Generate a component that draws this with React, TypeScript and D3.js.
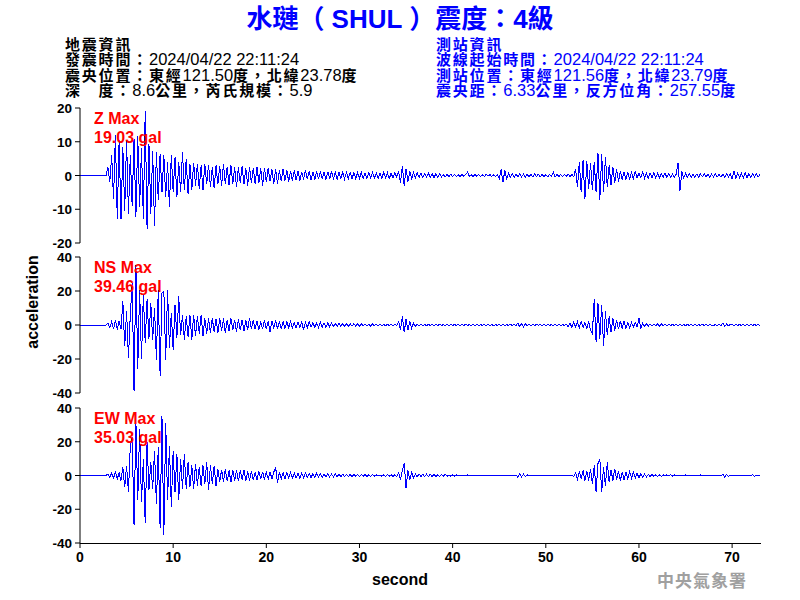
import React from 'react';
import * as d3 from 'd3';

const SAMPLE_DT = 0.2;

const zValues = [
  0,0,0,0,0, 0,0,0,0,0, 0,0,0,0,0,
  2.5,-2,6,-7,11.9,
  -13,10.4,-13,8.4,-10.4,
  10.6,-11.4,6,-9,10.9,
  -12.3,11.6,-9.4,8,-12.8,
  19,-15.8,9.4,-11.4,7.4,
  -15,6.9,-7.4,6.4,-5,
  6,-6.4,4,-9.2,6.1,
  -5,5.4,-6.4,4,-5,
  7,-4.4,4.8,-5.5,3.5,
  -4.4,3.8,-3,3.5,-4,
  3,-4.4,3.5,-2.6,3.2,
  -3.5,2.5,-3.8,3,-2.6,
  2.8,-3.2,3.5,-2.5,2.6,
  -2.8,3.2,-2.5,2.4,-3.4,
  2.5,-2.2,2.8,-2.6,2.2,
  -3,2.5,-2.3,2.2,-2.5,
  2.6,-2.2,2.1,-3,2.3,
  -2,2.3,-1.6,1.8,-2.4,
  1.8,-2.6,1.5,-1.6,2,
  -1.5,1.6,-1.8,1.4,-1.5,
  1.5,-1.4,1.2,-1.5,1.1,
  -1.2,1.5,-1.1,1.2,-1.3,
  1.1,-1.2,1.3,-1,1.2,
  -1.1,1,-1.2,1.1,-1,
  1.2,-1,0.9,-1.1,1,
  -0.9,1,-1,0.9,-0.9,
  1,-0.9,0.8,-1,0.9,
  -0.8,0.9,-0.9,0.8,-0.9,
  0.8,-0.8,0.9,-0.8,0.7,
  -0.9,0.8,-0.8,0.9,-0.7,
  0.8,-0.9,0.7,-0.8,0.8,
  -0.5,1.2,-2.2,2.7,-3,
  2,-1.8,1.2,-1,0.8,
  -0.7,0.8,-0.6,0.7,-0.6,
  0.6,-0.5,0.7,-0.6,0.5,
  -0.6,0.5,-0.5,0.6,-0.4,
  0.3,-0.4,0.3,-0.3,0.4,
  -0.3,0.3,-0.3,0.2,-0.3,
  0.3,-0.2,0.3,1,-0.3,
  0.2,-0.3,0.3,-0.2,0.3,
  -0.3,0.2,-0.3,0.3,-0.2,
  0.3,-0.3,0.2,-0.3,0.3,
  -1,1.8,-2,1.5,-1,
  0.6,-0.5,0.5,-0.6,0.4,
  -0.4,0.5,-0.4,0.4,-0.5,
  0.4,-0.4,0.3,-0.4,0.4,
  -0.3,0.4,-0.4,0.3,-0.3,
  0.3,-0.4,0.3,-0.3,1,
  -0.5,0.3,-0.3,0.3,-0.3,
  0.3,-0.3,0.4,-0.3,0.3,
  -0.4,2,-3.5,4,-5,
  4.6,-6.9,4.4,-4,3.8,
  -4.4,4,-5,6.6,-7.2,
  6.4,-4.9,5.5,-3.5,3,
  -2.8,2.5,-2.2,2,-1.8,
  1.3,-1.2,1,-1.1,0.9,
  -1,0.8,-0.9,1.2,-0.8,
  0.8,-0.7,1.1,-0.8,0.7,
  -0.8,0.7,-0.6,0.8,-0.7,
  0.6,-0.7,0.6,-0.5,0.7,
  -0.6,0.5,-0.6,0.5,-0.5,
  0.4,3.8,-4.6,1.2,-0.8,
  0.6,-0.5,0.6,-0.5,0.4,
  -0.5,0.4,-0.5,0.5,-0.4,
  0.5,-0.4,0.4,-0.5,0.4,
  -0.4,0.5,-0.4,0.4,-0.5,
  0.4,-0.5,0.5,-0.4,0.5,
  -1,1.3,-0.8,0.7,-0.6,
  0.6,-0.7,0.8,-0.6,0.5,
  -0.6,0.5,-0.5,0.6,-0.4,
  0.3,
];

const nsValues = [
  0,0,0,0,0, 0,0,0,0,0, 0,0,0,0,0,
  1,-1.5,2,-2.5,3,
  -2.7,2.5,-2.5,14,-12.5,
  8,-19.4,6,24.7,-39,
  35.5,-26,20.8,-20,17.8,
  -10.6,15,-8,13,-8.6,
  10,-20.4,20.8,-30.2,18.8,
  19.8,-20.4,20.8,-13.5,7,
  -14.5,12,-7.6,16.9,-6,
  6,-8.6,5,-7,6,
  -8.6,6,-6.7,5,-5,
  6,-6.7,4,-5,4,
  -4.7,4,-4,3.5,-4.5,
  4,-3.5,3.8,-4.7,3,
  -3.5,4,-3,3,-4,
  3.5,-3,3,-3.5,2.8,
  -3,4.1,-2.5,2.8,-2.5,
  2.5,-3,2,-2.5,2.8,
  -2.5,2,-4.3,2.5,-2,
  2.8,-2.2,2,-2.5,2,
  -2,1.8,-1.5,2,-1.6,
  1.5,-1.8,1.6,-1.5,2,
  -3,1.5,-1.6,1.8,-1.2,
  1.5,-1.5,1.2,-1.3,1.8,
  -1.2,1.3,-1.5,1.2,-1,
  1.2,-1,1,-0.8,0.9,
  -0.8,0.9,-0.7,0.8,-0.8,
  0.7,-0.6,0.8,-0.7,0.6,
  -0.7,0.6,-0.5,0.7,-0.6,
  0.5,-0.6,0.5,-0.5,0.6,
  -0.5,0.5,-0.6,0.5,-0.5,
  0.5,-0.4,0.5,-0.5,0.4,
  -0.5,2,-3,5,-4.3,
  3.5,-3,2.5,-2,1.2,
  -0.8,0.6,-0.5,0.6,-0.4,
  0.4,-0.5,0.4,-0.4,0.5,
  -0.4,0.3,-0.4,0.4,-0.3,
  0.3,-0.4,0.3,-0.3,0.4,
  -0.3,0.4,-0.3,0.3,-0.3,
  0.3,-0.3,0.4,-0.3,0.3,
  -0.3,0.3,-0.3,0.4,-0.3,
  0.3,-0.3,0.3,-0.3,0.3,
  -0.3,0.3,-0.4,0.3,-0.3,
  0.3,-0.3,0.3,-0.3,0.3,
  -0.3,0.4,-0.3,0.3,-0.3,
  1,-1,0.8,-1,0.7,
  -0.5,0.4,-0.3,0.3,-0.3,
  0.3,-0.2,0.3,-0.2,0.2,
  -0.2,0.2,-0.2,0.2,-0.2,
  0.2,-0.2,0.2,-0.2,0.2,
  -0.2,0.5,-1,1.2,-1.5,
  1.6,-1.2,1.8,-1.5,2,
  -1.5,1.5,-2,2,-3,
  -5,15.5,-10.2,12.9,-8,
  12,-12.5,8,-6,5,
  -4.3,4,-3.5,3,-2.5,
  2.5,-2,2.2,-1.8,1.5,
  -1.5,1.5,-1.2,1.5,-1.2,
  4,-2,1,-0.8,0.8,
  -0.7,0.6,-0.7,0.5,-0.6,
  0.6,-0.5,0.6,-0.5,0.4,
  -0.5,0.5,-0.4,0.5,-0.4,
  0.4,-0.4,0.5,-0.4,0.4,
  -0.4,0.4,-0.3,0.4,-0.3,
  0.3,-0.4,0.3,-0.3,0.4,
  -0.3,0.3,-0.3,0.3,-0.3,
  -0.3,0.3,-0.3,0.3,-0.3,
  1,-0.8,0.5,-0.4,0.3,
  0.3,-0.3,0.4,-0.3,0.3,
  -0.3,0.3,-0.3,0.3,-0.3,
  0.3,-0.3,0.4,-0.3,0.3,
  -0.3,
];

const ewValues = [
  0,0,0,0,0, 0,0,0,0,0, 0,0,0,0,0,
  1,-1,1.5,-1.5,2,
  -2,1.5,-3,5,-7,
  5.9,-9.8,17.6,22.5,-29.4,
  32.4,-14.7,27.5,-15.7,9.8,
  -28.4,19.6,-8.8,7.8,-8,
  14.7,-16.7,16.7,-31.4,35.3,
  -35.3,31.4,-14.7,17.6,-18.6,
  14.7,-10,12.7,-14.7,10,
  -8,12.7,-7.8,7.8,-7,
  6,-7.8,7,-6,5,
  -6,6,-5,7.8,-8.8,
  6,-5,5.5,-6,4,
  -4,3.5,-4,3.8,-3.5,
  3,-4,3.5,-3,3,
  -3.5,3,-2.5,3.5,-3,
  2.5,-3,2.5,-2.5,2,
  -2.5,2.5,-2,2.2,-2.5,
  2,-2,2.2,-2,2,
  4.9,-4.5,2,-2,1.8,
  -2,1.8,-1.5,1.8,-1.6,
  1.5,-1.5,1.2,-1.6,1.4,
  -1.2,1.5,-1.2,1.2,-1.3,
  1.2,-1,1.3,-1,1,
  -1.2,1,-0.9,1,-0.8,
  0.9,-0.8,0.9,-0.7,0.8,
  -0.7,0.8,-0.6,0.7,-0.6,
  0.6,-0.5,0.6,-0.5,0.5,
  -0.5,0.5,-0.4,0.5,-0.5,
  0.4,-0.5,0.4,-0.4,0.5,
  -0.4,0.4,-0.5,0.4,-0.4,
  0.5,-0.4,0.4,-0.5,0.4,
  -0.5,1.5,-2.5,3,7.3,
  -7.5,3,-2.5,2,-1.5,
  1,-0.8,0.9,-0.7,0.8,
  -0.7,0.8,-0.6,0.7,-0.6,
  0.6,-0.7,0.5,-0.6,0.5,
  -0.5,0.6,-0.5,0.4,-0.5,
  0.4,-0.3,0.3,-0.3,0.3,
  -0.3,0.3,-0.2,0.3,-0.2,
  0.2,-0.3,0.2,-0.2,0.3,
  -0.2,0.2,-0.3,0.2,-0.2,
  0.3,-0.2,0.2,-0.2,0.2,
  -0.2,0.3,-0.2,0.2,-0.3,
  0.2,-0.2,0.3,-0.2,0.2,
  -1,1,-0.8,0.8,-0.6,
  0.4,-0.3,0.3,-0.2,0.2,
  -0.2,0.2,-0.2,0.2,-0.2,
  0.2,-0.2,0.2,-0.2,0.2,
  -0.2,0.2,-0.2,0.2,-0.2,
  0.2,-0.2,0.3,-0.3,0.2,
  -0.5,1.5,-2,2.5,-2,
  3,-3,2.5,-3,4,
  -5,6,-9.8,7,9.8,
  -9.8,5,-6,7.8,-4,
  3.5,-3,4,-2.5,2.5,
  -3,2,-2.5,2,-2,
  2.2,-1.5,1.8,-1.5,1.5,
  -1.5,1.2,-1,0.8,-0.8,
  0.7,-0.6,0.6,-0.5,0.5,
  -0.5,0.4,-0.5,0.4,-0.4,
  0.4,-0.3,0.4,-0.3,0.3,
  -0.3,0.3,-0.3,0.3,-0.3,
  0.3,-0.3,0.3,-0.3,0.2,
  -0.3,0.2,-0.2,0.3,-0.2,
  0.2,-0.2,0.2,-0.2,0.2,
  -0.2,0.2,-0.2,0.2,-0.2,
  0.8,-1,0.6,-0.4,0.3,
  -0.2,0.2,-0.2,0.2,-0.2,
  0.2,-0.2,0.2,-0.2,0.2,
  -0.3,0.6,-0.5,0.3,-0.2,
  0.2,
];

const channelNames = ['Z', 'NS', 'EW'];
const maxLabels = ['19.03 gal', '39.46 gal', '35.03 gal'];
const yLimits = [20, 40, 40];
const yTickValues = [
  [-20, -10, 0, 10, 20],
  [-40, -20, 0, 20, 40],
  [-40, -20, 0, 20, 40],
];
const xTickValues = [0, 10, 20, 30, 40, 50, 60, 70];
const xMaxSeconds = 73.1;

const titleText = '水璉（ SHUL ）震度：4級';
const quakeInfo = [
  '地震資訊',
  '發震時間：2024/04/22 22:11:24',
  '震央位置：東經121.50度，北緯23.78度',
  '深\u3000度：8.6公里，芮氏規模：5.9',
];
const stationInfo = [
  '測站資訊',
  '波線起始時間：2024/04/22 22:11:24',
  '測站位置：東經121.56度，北緯23.79度',
  '震央距：6.33公里，反方位角：257.55度',
];

const FONT = '"Liberation Sans", Arial, "Noto Sans CJK TC", sans-serif';
const CJK_RE = /[\u3000-\u9fff\uff00-\uffef]/;

function splitRuns(s: string): { text: string; cjk: boolean }[] {
  const re = /[\u3000-\u9fff\uff00-\uffef]+|[^\u3000-\u9fff\uff00-\uffef]+/g;
  const m = s.match(re) || [];
  return m.map((r) => ({ text: r, cjk: CJK_RE.test(r) }));
}

function InfoLine({ x, y, text, color }: { x: number; y: number; text: string; color: string }) {
  return (
    <text x={x} y={y} fill={color} fontSize={16} fontFamily={FONT}>
      {splitRuns(text).map((r, i) => (
        <tspan
          key={i}
          fontWeight={r.cjk ? 'bold' : 'normal'}
          fontSize={r.cjk ? 15 : 16.5}
          letterSpacing={r.cjk ? 1.8 : 0}
        >
          {r.text}
        </tspan>
      ))}
    </text>
  );
}

export default function App() {
  const width = 800;
  const height = 600;
  const left = 80;
  const right = 761;
  const panelTops = [108, 257, 408];
  const panelBottoms = [243, 393, 543];
  const series = [zValues, nsValues, ewValues];

  const x = d3.scaleLinear().domain([0, xMaxSeconds]).range([left, right]);

  return (
    <svg
      width={width}
      height={height}
      style={{ position: 'absolute', left: 0, top: 0, background: '#fff' }}
    >
      <rect x={0} y={0} width={width} height={height} fill="#fff" />
      <text
        x={400}
        y={28}
        textAnchor="middle"
        fill="#0000ff"
        fontWeight="bold"
        fontSize={26}
        fontFamily={FONT}
      >
        {titleText}
      </text>

      {quakeInfo.map((t, i) => (
        <InfoLine key={'q' + i} x={65} y={50 + i * 15.3} text={t} color="#000" />
      ))}
      {stationInfo.map((t, i) => (
        <InfoLine key={'s' + i} x={436} y={50 + i * 15.3} text={t} color="#0000ff" />
      ))}

      {series.map((vals, p) => {
        const y = d3
          .scaleLinear()
          .domain([-yLimits[p], yLimits[p]])
          .range([panelBottoms[p], panelTops[p]]);
        const line = d3
          .line<number>()
          .x((_, i) => x(i * SAMPLE_DT))
          .y((d) => y(d));
        return (
          <g key={'p' + p}>
            <path
              d={line(vals) || ''}
              fill="none"
              stroke="#0000ff"
              strokeWidth={1}
              shapeRendering="crispEdges"
            />
            <line x1={left} x2={left} y1={panelTops[p]} y2={panelBottoms[p]} stroke="#000" strokeWidth={1} />
            {yTickValues[p].map((v) => (
              <g key={v}>
                <line x1={left - 5} x2={left} y1={y(v)} y2={y(v)} stroke="#000" strokeWidth={1} />
                <text
                  x={left - 8}
                  y={y(v) + 5}
                  textAnchor="end"
                  fontSize={13.5}
                  fontWeight="bold"
                  fontFamily={FONT}
                  fill="#000"
                >
                  {v}
                </text>
              </g>
            ))}
            <text x={94} y={panelTops[p] + 16} fill="#ff0000" fontSize={16} fontWeight="bold" fontFamily={FONT}>
              {channelNames[p] + ' Max'}
            </text>
            <text x={94} y={panelTops[p] + 35} fill="#ff0000" fontSize={16} fontWeight="bold" fontFamily={FONT}>
              {maxLabels[p]}
            </text>
          </g>
        );
      })}

      <line x1={left} x2={right} y1={543.5} y2={543.5} stroke="#000" strokeWidth={1} />
      {xTickValues.map((v) => (
        <g key={'x' + v}>
          <line x1={x(v)} x2={x(v)} y1={543} y2={548} stroke="#000" strokeWidth={1} />
          <text
            x={x(v)}
            y={562}
            textAnchor="middle"
            fontSize={14}
            fontWeight="bold"
            fontFamily={FONT}
            fill="#000"
          >
            {v}
          </text>
        </g>
      ))}
      <text x={400} y={585} textAnchor="middle" fontSize={16} fontWeight="bold" fontFamily={FONT} fill="#000">
        second
      </text>
      <text
        transform="translate(38,302) rotate(-90)"
        textAnchor="middle"
        fontSize={16}
        fontWeight="bold"
        fontFamily={FONT}
        fill="#000"
      >
        acceleration
      </text>
      <text
        x={702}
        y={587}
        textAnchor="middle"
        fontSize={17}
        fontWeight="bold"
        fontFamily={FONT}
        fill="#a0a0a0"
        letterSpacing={1}
      >
        中央氣象署
      </text>
    </svg>
  );
}
